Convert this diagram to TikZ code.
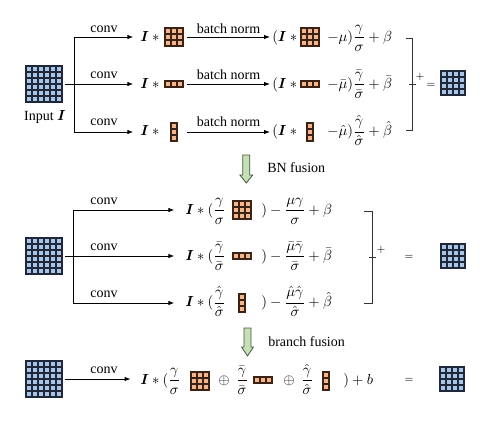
\documentclass[tikz,border=0pt]{standalone}
\usepackage{amsmath,bm}
\usepackage{fontspec}
\setmainfont{Liberation Serif}
\usetikzlibrary{arrows.meta,positioning}

\definecolor{mapblue}{RGB}{169,196,228}
\definecolor{mapline}{RGB}{30,40,58}
\definecolor{kernfill}{RGB}{243,182,140}
\definecolor{kernline}{RGB}{60,34,20}
\definecolor{fusefill}{RGB}{197,224,180}
\definecolor{fuseline}{RGB}{70,84,62}

\tikzset{
  txt/.style={inner sep=0pt, font=\fontsize{10.5}{12}\selectfont},
  eqn/.style={txt, anchor=base west},
  small/.style={inner sep=0pt, font=\fontsize{8.5}{10}\selectfont},
  gridbox/.style={inner sep=0pt, outer sep=0pt},
  fmap/.style={fill=mapblue, draw=mapline, line width=1.3pt},
  kern/.style={fill=kernfill, draw=kernline, line width=1.1pt},
  flow/.style={line width=0.7pt, -{Latex[length=4.5pt,width=3.4pt]}},
  branch/.style={line width=0.7pt},
  brace/.style={line width=0.7pt, draw=black!80},
  fuse/.style={fill=fusefill, draw=fuseline, line width=0.6pt},
}

% cell grid: name, centre, columns, rows, cell size, cell style
\newcommand{\cellgrid}[6]{%
  \node[gridbox, minimum width={#3*#5*0.75pt}, minimum height={#4*#5*0.75pt}] (#1) at (#2) {};
  \foreach \cx in {1,...,#3}
    \foreach \cy in {1,...,#4}
      \draw[#6] ([shift={(\cx*#5-#5,\cy*#5-#5)}]#1.north west) rectangle ++(#5,#5);
}

\begin{document}
\begin{tikzpicture}[x=0.75pt, y=-0.75pt]
\useasboundingbox (0,0) rectangle (492,421);

% ---- three branches, each followed by batch norm
\cellgrid{in1}{44,84}{6}{6}{6}{fmap}
\node[txt] (inlbl) at (45,117) {Input $\bm{I}$};
\coordinate (br1) at (74,84);
\coordinate (br1a) at (74,37);
\coordinate (br1c) at (74,132);
\draw[branch, shorten <=2pt] (in1.east) -- (br1);
\draw[branch] (br1a) -- (br1c);

\node[txt] (cv1) at (104,29) {conv};
\node[txt] (cv2) at (104,75) {conv};
\node[txt] (cv3) at (104,122) {conv};
\node[txt] (bn1) at (228.5,29) {batch norm};
\node[txt] (bn2) at (228.5,75) {batch norm};
\node[txt] (bn3) at (228.5,122) {batch norm};

% 3x3 branch
\node[eqn] (a1) at (140,41) {$\bm{I}*{}$};
\cellgrid{k1}{174,37}{3}{3}{6}{kern}
\node[eqn] (p1) at (272,41) {$(\bm{I}*{}$};
\cellgrid{q1}{310,37}{3}{3}{6}{kern}
\node[eqn] (n1) at (327,41) {$-\mu)\dfrac{\gamma}{\sigma}+\beta$};
% 1x3 branch
\node[eqn] (a2) at (140,88) {$\bm{I}*{}$};
\cellgrid{k2}{174,84}{3}{1}{6}{kern}
\node[eqn] (p2) at (272,88) {$(\bm{I}*{}$};
\cellgrid{q2}{310,84}{3}{1}{6}{kern}
\node[eqn] (n2) at (327,88) {$-\bar{\mu})\dfrac{\bar{\gamma}}{\bar{\sigma}}+\bar{\beta}$};
% 3x1 branch
\node[eqn] (a3) at (140,135.5) {$\bm{I}*{}$};
\cellgrid{k3}{174,132}{1}{3}{6}{kern}
\node[eqn] (p3) at (272,135.5) {$(\bm{I}*{}$};
\cellgrid{q3}{310,132}{1}{3}{6}{kern}
\node[eqn] (n3) at (327,135.5) {$-\hat{\mu})\dfrac{\hat{\gamma}}{\hat{\sigma}}+\hat{\beta}$};

\draw[flow, shorten >=5pt] (br1a) -- (br1a -| a1.west);
\draw[flow, shorten >=5pt] (br1) -- (br1 -| a2.west);
\draw[flow, shorten >=5pt] (br1c) -- (br1c -| a3.west);
\draw[flow, shorten <=3pt, shorten >=1.5pt] (k1.east) -- (k1.east -| p1.west);
\draw[flow, shorten <=3pt, shorten >=1.5pt] (k1.east |- k2.east) -- (k2.east -| p2.west);
\draw[flow, shorten <=3pt, shorten >=1.5pt] (k1.east |- k3.east) -- (k3.east -| p3.west);

% sum of the branches
\draw[brace] (406,38) -- (412,38) -- (412,130) -- (406,130);
\draw[brace] (409,84) -- (416,84);
\node[small] (plus1) at (420,77) {$+$};
\node[small] (eq1) at (431,85) {$=$};
\cellgrid{out1}{453,83}{4}{4}{6}{fmap}

% ---- BN fusion
\draw[fuse] (242.8,155) -- (249.8,155) -- (249.8,175) -- (252.7,175) -- (246.3,183)
  -- (239.9,175) -- (242.8,175) -- cycle;
\node[txt, anchor=west] (bnf) at (267,168) {BN fusion};

\cellgrid{in2}{44,256}{6}{6}{6}{fmap}
\coordinate (br2) at (73,256);
\coordinate (br2a) at (73,210);
\coordinate (br2c) at (73,303);
\draw[branch, shorten <=2pt] (in2.east) -- (br2);
\draw[branch] (br2a) -- (br2c);
\node[txt] (cv4) at (104,201) {conv};
\node[txt] (cv5) at (104,247.5) {conv};
\node[txt] (cv6) at (104,294) {conv};

\node[eqn] (m1) at (185,214) {$\bm{I}*(\dfrac{\gamma}{\sigma}$};
\cellgrid{mk1}{242,210}{3}{3}{6}{kern}
\node[eqn] (mr1) at (261,214) {$)-\dfrac{\mu\gamma}{\sigma}+\beta$};
\node[eqn] (m2) at (185,260) {$\bm{I}*(\dfrac{\bar{\gamma}}{\bar{\sigma}}$};
\cellgrid{mk2}{242,256}{3}{1}{6}{kern}
\node[eqn] (mr2) at (261,260) {$)-\dfrac{\bar{\mu}\bar{\gamma}}{\bar{\sigma}}+\bar{\beta}$};
\node[eqn] (m3) at (185,306.5) {$\bm{I}*(\dfrac{\hat{\gamma}}{\hat{\sigma}}$};
\cellgrid{mk3}{242,303}{1}{3}{6}{kern}
\node[eqn] (mr3) at (261,306.5) {$)-\dfrac{\hat{\mu}\hat{\gamma}}{\hat{\sigma}}+\hat{\beta}$};

\draw[flow, shorten >=8pt] (br2a) -- (br2a -| m1.west);
\draw[flow, shorten >=8pt] (br2) -- (br2 -| m2.west);
\draw[flow, shorten >=8pt] (br2c) -- (br2c -| m3.west);

\draw[brace] (364,211) -- (372,211) -- (372,303) -- (364,303);
\draw[brace] (369,257) -- (376,257);
\node[small] (plus2) at (381,250) {$+$};
\node[small] (eq2) at (409,257) {$=$};
\cellgrid{out2}{453,256}{4}{4}{6}{fmap}

% ---- branch fusion
\draw[fuse] (244,328) -- (251,328) -- (251,347) -- (253.5,347) -- (247.5,356)
  -- (241.5,347) -- (244,347) -- cycle;
\node[txt, anchor=west] (brf) at (268,342) {branch fusion};

\cellgrid{in3}{44,379}{6}{6}{6}{fmap}
\node[txt] (cv7) at (104,370) {conv};
\node[eqn] (s1) at (140,384) {$\bm{I}*(\dfrac{\gamma}{\sigma}$};
\cellgrid{sk1}{200,381}{3}{3}{6}{kern}
\node[eqn] (s2) at (218,384) {$\oplus\;\,\dfrac{\bar{\gamma}}{\bar{\sigma}}$};
\cellgrid{sk2}{263,380}{3}{1}{6}{kern}
\node[eqn] (s3) at (283,384) {$\oplus\;\,\dfrac{\hat{\gamma}}{\hat{\sigma}}$};
\cellgrid{sk3}{326,381}{1}{3}{6}{kern}
\node[eqn] (s4) at (343,384) {$)+b$};
\draw[flow, shorten <=2pt, shorten >=7pt] (in3.east) -- (in3.east -| s1.west);
\node[small] (eq3) at (409,380) {$=$};
\cellgrid{out3}{452,379}{4}{4}{6}{fmap}

\end{tikzpicture}
\end{document}
